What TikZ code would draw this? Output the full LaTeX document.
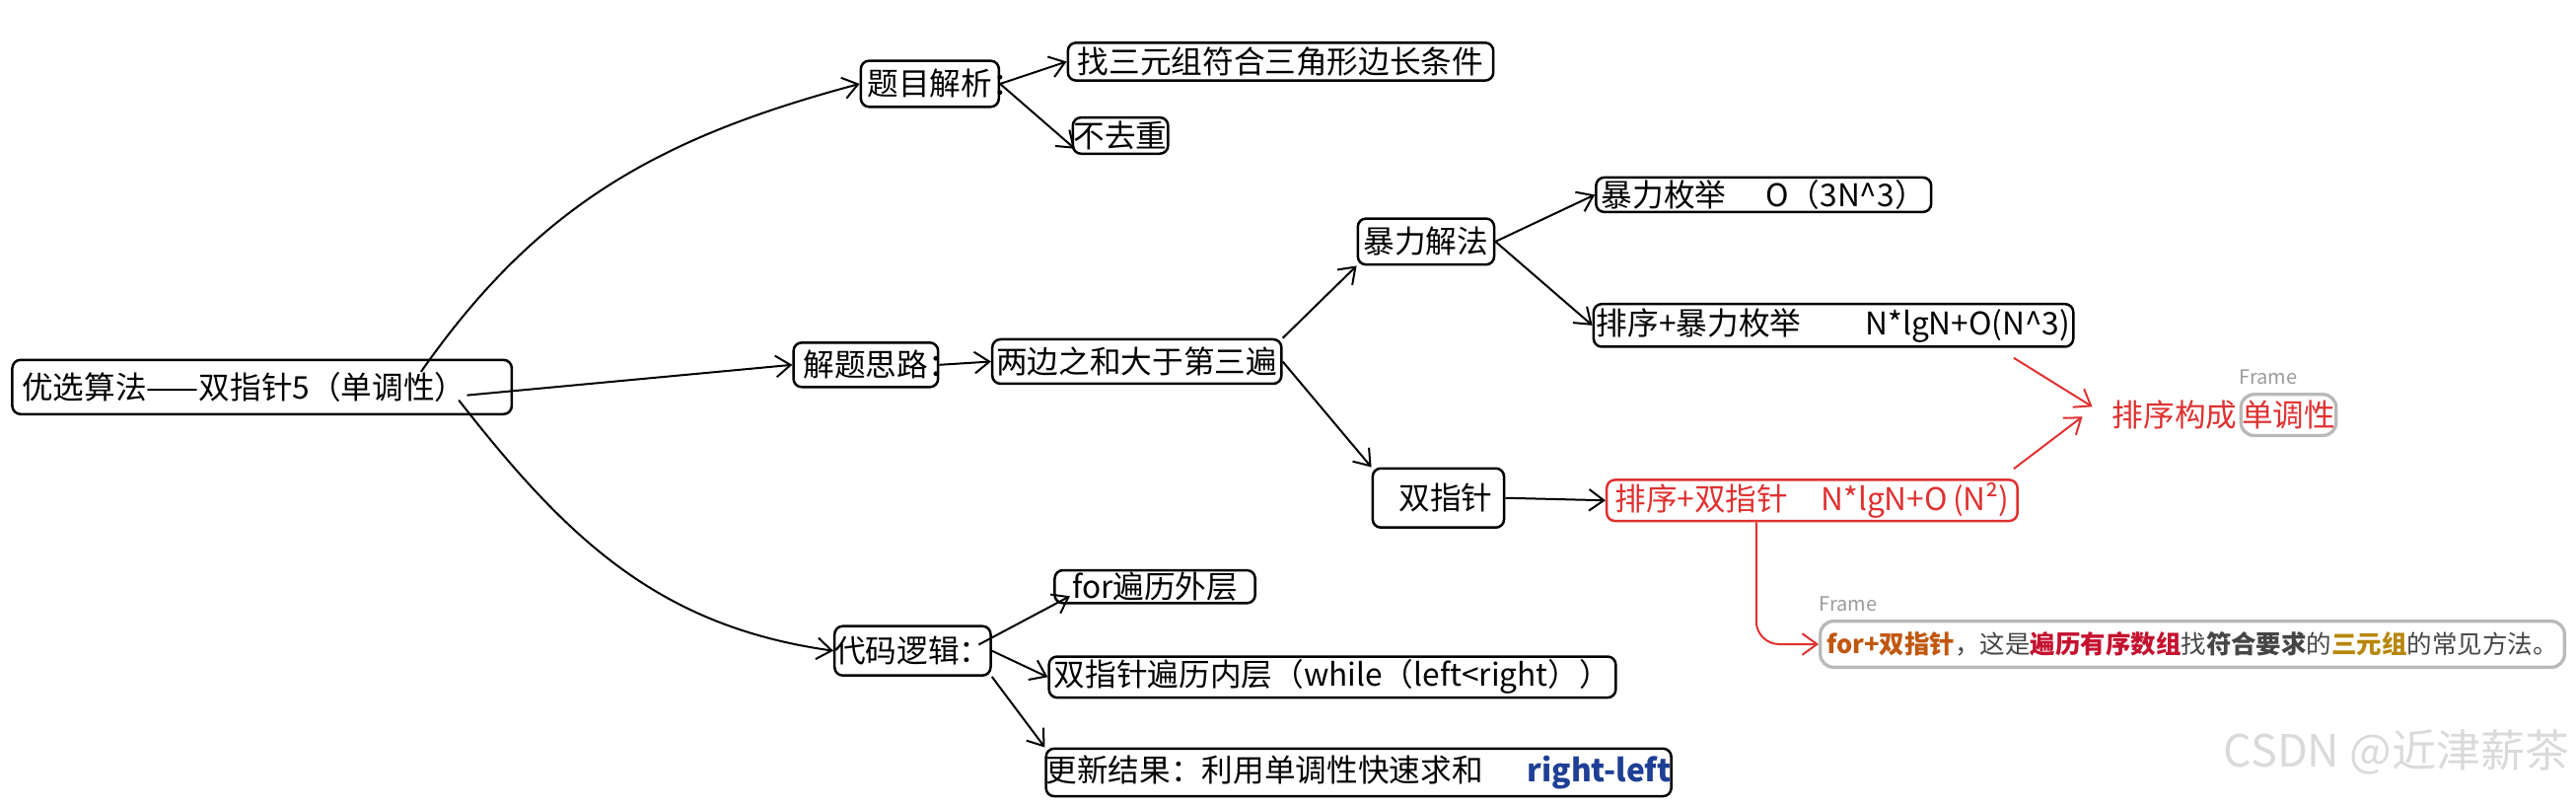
\documentclass[tikz,border=0pt]{standalone}
\usepackage{fontspec}
\setmainfont{Noto Sans CJK SC}
\usetikzlibrary{arrows.meta,calc}

\definecolor{exred}{HTML}{E03131}
\definecolor{framegray}{HTML}{B9B9B9}
\definecolor{labelgray}{HTML}{9B9B9B}
\definecolor{hintorange}{HTML}{C0570F}
\definecolor{hintred}{HTML}{C4122F}
\definecolor{hintgold}{HTML}{B7860B}
\definecolor{hinttext}{HTML}{454545}
\definecolor{leftblue}{HTML}{1E3F94}
\definecolor{markgray}{HTML}{DADADA}

\tikzset{
  box/.style={draw, line width=1.5pt, rounded corners=5pt, inner sep=0pt,
    font=\fontsize{19}{22}\selectfont},
  redbox/.style={box, draw=exred, text=exred},
  framebox/.style={draw=framegray, line width=2pt, rounded corners=8pt, inner sep=0pt},
  framelabel/.style={text=labelgray, inner sep=0pt, font=\fontsize{12}{14}\selectfont},
  link/.style={->, line width=1.2pt},
  redlink/.style={link, draw=exred},
}

\begin{document}
\begin{tikzpicture}[x=1pt, y=1pt, >={Straight Barb[length=9pt, width=13pt]}]
    \useasboundingbox (0,0) rectangle (1568,-490);

    % root
    \node[box, minimum width=304, minimum height=33] (root) at (159.5,-235.5)
        {优选算法——双指针5（单调性）\hspace*{22pt}};

    % 1. 题目解析
    \node[box, minimum width=84, minimum height=28] (tmjx) at (566,-51) {题目解析\rlap{：}};
    \node[box, minimum width=259, minimum height=23] (cond) at (779.5,-37.5) {找三元组符合三角形边长条件};
    \node[box, minimum width=58, minimum height=22] (nodup) at (682,-82.5) {不去重};

    % 2. 解题思路
    \node[box, minimum width=88, minimum height=27] (jtsl) at (527,-222) {解题思路\rlap{：}};
    \node[box, minimum width=176, minimum height=27] (sum) at (692,-220) {两边之和大于第三遍};
    \node[box, minimum width=83, minimum height=28] (brute) at (868,-147) {暴力解法};
    \node[box, minimum width=204, minimum height=21] (enum) at (1073.5,-118.5)
        {暴力枚举\hspace{24pt}O（3N\textasciicircum 3）};
    \node[box, minimum width=292, minimum height=26] (sortenum) at (1116,-198)
        {排序+暴力枚举\hspace{39pt}N*lgN+O(N\textasciicircum 3)};
    \node[box, minimum width=80, minimum height=36] (twoptr) at (875.5,-303) {\hspace*{9pt}双指针};
    \node[redbox, minimum width=250, minimum height=25] (redres) at (1103,-304.5)
        {排序+双指针\hspace{20pt}N*lgN+O\,(N²)};

    % 单调性 frame
    \node[framebox, text=exred, minimum width=58, minimum height=25,
        font=\fontsize{19}{22}\selectfont] (mono) at (1393,-252.5) {单调性};
    \node[anchor=east, inner sep=0pt, text=exred, font=\fontsize{19}{22}\selectfont]
        (monotxt) at ($(mono.west)+(-1,0)$) {排序构成};
    \node[framelabel, anchor=south west] (monolabel) at ($(mono.north west)+(0,5)$) {Frame};

    % hint frame
    \node[framebox, text=hinttext, minimum width=453, minimum height=28,
        font=\fontsize{15.3}{18}\selectfont] (hint) at (1334.5,-392)
        {\textcolor{hintorange}{\bfseries for+双指针}，这是\textcolor{hintred}{\bfseries 遍历有序数组}找\textbf{符合要求}的\textcolor{hintgold}{\bfseries 三元组}的常见方法。};
    \node[framelabel, anchor=south west] (hintlabel) at ($(hint.north west)+(0,5)$) {Frame};

    % 3. 代码逻辑
    \node[box, minimum width=95, minimum height=30] (dmlj) at (555.5,-396) {代码逻辑：};
    \node[box, minimum width=122, minimum height=20] (forn) at (703,-357) {for遍历外层};
    \node[box, minimum width=345, minimum height=25] (inner) at (811,-412) {双指针遍历内层（while（left<right））};
    \node[box, minimum width=380, minimum height=29] (update) at (827,-470)
        {更新结果：利用单调性快速求和\hspace{27pt}\textcolor{leftblue}{\bfseries right-left}};

    % watermark
    \node[anchor=east, inner sep=0pt, text=markgray, font=\fontsize{27}{30}\selectfont]
        (mark) at (1564,-458) {CSDN @近津薪茶};

    % connectors
    \draw[link] ($(root.north east)+(-56,-8)$) to[out=55, in=195] (tmjx.west);
    \draw[link] ($(root.east)+(-28,-5)$) -- (jtsl.west);
    \draw[link] ($(root.east)+(-33,-8)$) to[out=-52, in=172] (dmlj.west);

    \draw[link] (tmjx.east) -- (cond.west);
    \draw[link] (tmjx.east) -- ($(nodup.west)+(2,-8)$);

    \draw[link] (jtsl.east) -- (sum.west);
    \draw[link] (sum.north east) -- (brute.south west);
    \draw[link] (sum.east) -- (twoptr.north west);
    \draw[link] (brute.east) -- (enum.west);
    \draw[link] (brute.east) -- (sortenum.west);
    \draw[link] (twoptr.east) -- (redres.west);

    \draw[redlink] ($(sortenum.south east)+(-37,-6)$) -- ($(monotxt.west)+(-12,5)$);
    \draw[redlink] ($(redres.north east)+(-3,6)$) -- ($(monotxt.west)+(-18,-1)$);
    \draw[redlink, rounded corners=14pt] ($(redres.south)+(-34,0)$) |- (hint.west);

    \draw[link] ($(dmlj.north east)+(-8,-12)$) -- ($(forn.south west)+(10,5)$);
    \draw[link] (dmlj.east) -- (inner.west);
    \draw[link] (dmlj.south east) -- (update.north west);
\end{tikzpicture}
\end{document}
